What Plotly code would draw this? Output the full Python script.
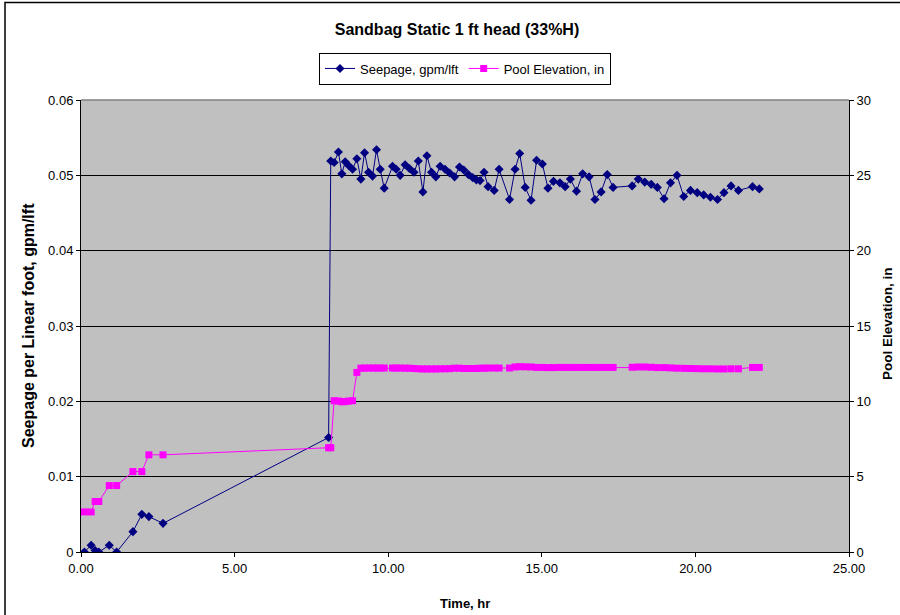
import plotly.graph_objects as go

# Time, hr
time_hr = [0.11, 0.33, 0.46, 0.58, 0.92, 1.16, 1.69, 1.98, 2.21, 2.67, 8.06,
           8.13, 8.24, 8.38, 8.49, 8.60, 8.71, 8.84, 8.98, 9.11, 9.23, 9.36, 9.49, 9.62, 9.74, 9.87,
           10.14, 10.26, 10.39, 10.55, 10.69, 10.84, 10.98, 11.13, 11.26, 11.41, 11.55, 11.69, 11.85,
           12.00, 12.16, 12.32, 12.46, 12.61, 12.75, 12.87, 12.99, 13.12, 13.25, 13.45, 13.61,
           13.95, 14.13, 14.28, 14.46, 14.65, 14.83, 15.02, 15.20, 15.38, 15.59, 15.76, 15.93,
           16.13, 16.33, 16.54, 16.73, 16.93, 17.13, 17.32,
           17.94, 18.14, 18.35, 18.56, 18.76, 18.98, 19.19, 19.40, 19.62, 19.84, 20.06, 20.27,
           20.49, 20.72, 20.93, 21.16, 21.40, 21.86, 22.08]

# Seepage, gpm/lft
seepage = [0.0, 0.0009, 0.0002, 0.0, 0.0009, 0.0, 0.0027, 0.0050, 0.0047, 0.0038, 0.0152,
           0.0519, 0.0517, 0.0531, 0.0502, 0.0518, 0.0513, 0.0508, 0.0522, 0.0495, 0.0530, 0.0504, 0.0499, 0.0534, 0.0508, 0.0483,
           0.0512, 0.0508, 0.0500, 0.0514, 0.0509, 0.0504, 0.0519, 0.0478, 0.0526, 0.0504, 0.0498, 0.0512, 0.0508,
           0.0503, 0.0498, 0.0511, 0.0507, 0.0501, 0.0497, 0.0494, 0.0493, 0.0504, 0.0485, 0.0480, 0.0508,
           0.0468, 0.0508, 0.0529, 0.0484, 0.0467, 0.0520, 0.0515, 0.0483, 0.0492, 0.0490, 0.0485, 0.0495,
           0.0479, 0.0502, 0.0498, 0.0468, 0.0478, 0.0501, 0.0484,
           0.0486, 0.0495, 0.0491, 0.0488, 0.0484, 0.0469, 0.0490, 0.0500, 0.0472, 0.0480, 0.0477, 0.0474,
           0.0471, 0.0468, 0.0477, 0.0486, 0.0480, 0.0485, 0.0482]

# Pool Elevation, in
pool_in = [2.66, 2.66, 3.35, 3.35, 4.41, 4.41, 5.34, 5.34, 6.45, 6.45, 6.92,
           6.92, 10.04, 10.02, 9.97, 9.98, 10.02, 10.04, 11.92, 12.20, 12.21, 12.21, 12.21, 12.21, 12.21, 12.21,
           12.21, 12.21, 12.21, 12.20, 12.20, 12.18, 12.16, 12.15, 12.15, 12.15, 12.15, 12.16, 12.16,
           12.17, 12.20, 12.20, 12.18, 12.18, 12.18, 12.18, 12.20, 12.20, 12.21, 12.21, 12.21,
           12.21, 12.28, 12.30, 12.29, 12.28, 12.25, 12.25, 12.24, 12.24, 12.25, 12.25, 12.25,
           12.25, 12.25, 12.25, 12.25, 12.25, 12.25, 12.25,
           12.26, 12.28, 12.28, 12.26, 12.24, 12.24, 12.22, 12.20, 12.19, 12.18, 12.17, 12.16,
           12.16, 12.15, 12.15, 12.16, 12.16, 12.25, 12.25]

x_ticks = [0, 5, 10, 15, 20, 25]
x_tick_labels = ["0.00", "5.00", "10.00", "15.00", "20.00", "25.00"]
y_ticks = [0, 0.01, 0.02, 0.03, 0.04, 0.05, 0.06]
y_tick_labels = ["0", "0.01", "0.02", "0.03", "0.04", "0.05", "0.06"]
y2_ticks = [0, 5, 10, 15, 20, 25, 30]

FONT = "Arial, Liberation Sans, sans-serif"

# plot-area geometry in page pixels (for paper-coordinate conversion)
PL, PW, PB, PH = 81, 768, 552, 452

fig = go.Figure()
fig.add_trace(go.Scatter(
    x=time_hr, y=seepage, mode="lines+markers", name="Seepage, gpm/lft",
    line=dict(color="#000080", width=1),
    marker=dict(symbol="diamond", size=7, color="#000080"),
    yaxis="y"))
fig.add_trace(go.Scatter(
    x=time_hr, y=pool_in, mode="lines+markers", name="Pool Elevation, in",
    line=dict(color="#FF00FF", width=1),
    marker=dict(symbol="square", size=7, color="#FF00FF"),
    yaxis="y2"))

fig.update_layout(
    width=900, height=615,
    margin=dict(l=PL, r=900 - PL - PW, t=PB - PH, b=615 - PB, autoexpand=False),
    paper_bgcolor="white",
    plot_bgcolor="#C0C0C0",
    font=dict(family=FONT, size=13, color="black"),
    title=dict(text="<b>Sandbag Static 1 ft head (33%H)</b>", x=457 / 900, xanchor="center",
               y=1 - 29 / 615, yanchor="middle", font=dict(size=16, family=FONT)),
    showlegend=True,
    legend=dict(orientation="h", x=(465 - PL) / PW, xanchor="center",
                y=(PB - 68.5) / PH, yanchor="middle",
                bgcolor="white", bordercolor="black", borderwidth=1,
                font=dict(size=13, family=FONT), itemwidth=30, tracegroupgap=0),
    xaxis=dict(range=[0, 25], tickvals=x_ticks, ticktext=x_tick_labels, automargin=False,
               showgrid=False, zeroline=False, showline=True, linecolor="black", linewidth=1,
               ticks="outside", ticklen=4, tickcolor="black"),
    yaxis=dict(range=[0, 0.06], tickvals=y_ticks, ticktext=y_tick_labels, automargin=False,
               showgrid=True, gridcolor="black", gridwidth=1, zeroline=False,
               showline=True, linecolor="black", linewidth=1,
               ticks="outside", ticklen=4, tickcolor="black"),
    yaxis2=dict(range=[0, 30], tickvals=y2_ticks, overlaying="y", side="right", automargin=False,
                showgrid=False, zeroline=False, showline=True, linecolor="black", linewidth=1,
                ticks="outside", ticklen=4, tickcolor="black"),
    annotations=[
        dict(text="<b>Time, hr</b>", xref="paper", yref="paper",
             x=(465 - PL) / PW, y=(PB - 603) / PH, xanchor="center", yanchor="middle",
             showarrow=False, font=dict(size=13)),
        dict(text="<b>Seepage per Linear foot, gpm/lft</b>", xref="paper", yref="paper",
             x=(28 - PL) / PW, y=0.5, xanchor="center", yanchor="middle", textangle=-90,
             showarrow=False, font=dict(size=16)),
        dict(text="<b>Pool Elevation, in</b>", xref="paper", yref="paper",
             x=(887 - PL) / PW, y=(PB - 324) / PH, xanchor="center", yanchor="middle",
             textangle=-90, showarrow=False, font=dict(size=13.5)),
    ],
    shapes=[
        # plot area top border (grey)
        dict(type="line", xref="paper", yref="paper", x0=0, x1=1, y0=1, y1=1,
             line=dict(color="#808080", width=1.5)),
        # chart outer border
        dict(type="rect", xref="paper", yref="paper",
             x0=(5 - PL) / PW, x1=(910 - PL) / PW,
             y0=(PB - 625) / PH, y1=(PB - 2.5) / PH,
             line=dict(color="black", width=1.5), fillcolor="rgba(0,0,0,0)", layer="below"),
    ],
)

fig.write_html("out.html", config={"displayModeBar": False},
               post_script="document.body.style.margin='0px';")
